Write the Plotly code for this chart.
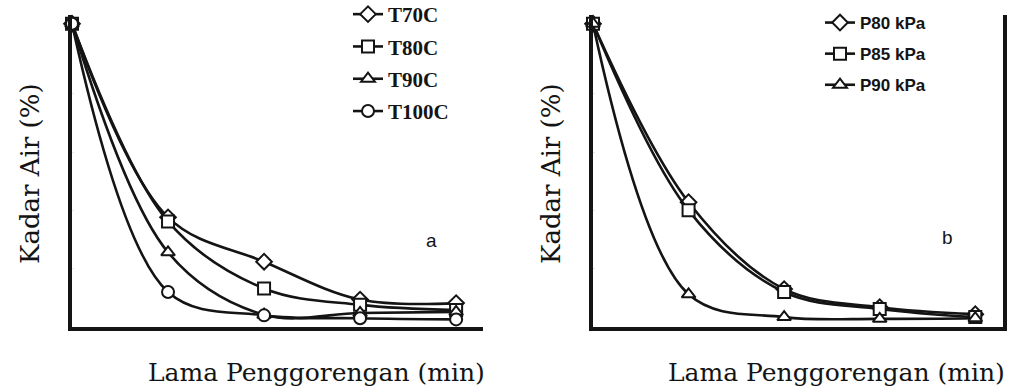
import plotly.graph_objects as go

# Frying time (min) and moisture content (%) for each treatment
waktu = [0, 2, 4, 6, 8]

suhu_labels = ["T70C", "T80C", "T90C", "T100C"]
t70 = [52.0, 18.8, 11.2, 4.7, 4.1]
t80 = [52.0, 18.1, 6.6, 3.8, 2.9]
t90 = [52.0, 12.8, 2.1, 2.4, 2.6]
t100 = [52.0, 6.0, 2.0, 1.5, 1.3]

tekanan_labels = ["P80 kPa", "P85 kPa", "P90 kPa"]
p80 = [52.0, 21.4, 6.5, 3.4, 2.2]
p85 = [52.0, 20.0, 6.0, 3.1, 1.7]
p90 = [52.0, 5.6, 1.7, 1.4, 1.5]

W, H = 1012, 392
INK = "#141414"

def px_x(v):
    return v / W

def px_y(v):
    return 1 - v / H

fig = go.Figure()

def add_series(y, name, symbol, xa, ya, legend):
    fig.add_trace(go.Scatter(
        x=waktu, y=y, name=name, xaxis=xa, yaxis=ya, legend=legend,
        legendgroup=name, mode="lines+markers", cliponaxis=False,
        line=dict(color=INK, width=2.6, shape="spline", smoothing=1.0),
        marker=dict(symbol=symbol, size=12, color="white",
                    line=dict(color=INK, width=2)),
    ))

for y, name, sym in zip([t70, t80, t90, t100], suhu_labels,
                        ["diamond", "square", "triangle-up", "circle"]):
    add_series(y, name, sym, "x", "y", "legend")

for y, name, sym in zip([p80, p85, p90], tekanan_labels,
                        ["diamond", "square", "triangle-up"]):
    add_series(y, name, sym, "x2", "y2", "legend2")

ydom = [px_y(327), px_y(15)]
axis_common = dict(showgrid=False, zeroline=False, showline=True,
                   linecolor=INK, linewidth=3.5)

fig.update_layout(
    width=W, height=H,
    margin=dict(l=0, r=0, t=0, b=0, autoexpand=False),
    paper_bgcolor="white", plot_bgcolor="white",
    showlegend=True,
    xaxis=dict(domain=[px_x(72), px_x(483)], range=[0, 8.56],
               showticklabels=False, ticks="", anchor="y", **axis_common),
    yaxis=dict(domain=ydom, range=[0, 53.5], showticklabels=False,
               tickvals=[10, 20, 30, 40], ticks="inside", ticklen=2,
               tickcolor="#e6e6e6", tickwidth=1, anchor="x", **axis_common),
    xaxis2=dict(domain=[px_x(593), px_x(1003)], range=[0, 8.58],
                showticklabels=False, ticks="", anchor="y2", **axis_common),
    yaxis2=dict(domain=ydom, range=[0, 53.5], showticklabels=False,
                tickvals=[10, 20, 30, 40], ticks="inside", ticklen=2,
                tickcolor="#e6e6e6", tickwidth=1, anchor="x2", mirror=True,
                **axis_common),
    legend=dict(x=px_x(348), y=px_y(-6), xanchor="left", yanchor="top",
                bgcolor="rgba(0,0,0,0)", tracegroupgap=2,
                font=dict(family="Liberation Serif", size=21, color=INK,
                          weight="bold")),
    legend2=dict(x=px_x(820), y=px_y(5), xanchor="left", yanchor="top",
                 bgcolor="rgba(0,0,0,0)", tracegroupgap=6,
                 font=dict(family="Liberation Sans", size=17, color=INK,
                           weight="bold")),
)

y_title_font = dict(family="DejaVu Serif", size=26, color=INK)
x_title_font = dict(family="DejaVu Serif", size=25, color=INK)
for cx in (30, 551):
    fig.add_annotation(text="Kadar Air (%)", textangle=-90, xref="paper", yref="paper",
                       x=px_x(cx), y=px_y(174), xanchor="center", yanchor="middle",
                       showarrow=False, font=y_title_font)
for cx in (316, 836):
    fig.add_annotation(text="Lama Penggorengan (min)", xref="paper", yref="paper",
                       x=px_x(cx), y=px_y(372), xanchor="center", yanchor="middle",
                       showarrow=False, font=x_title_font)

panel_font = dict(family="Liberation Sans", size=19, color=INK)
fig.add_annotation(text="a", xref="paper", yref="paper", x=px_x(431), y=px_y(240),
                   xanchor="center", yanchor="middle", showarrow=False, font=panel_font)
fig.add_annotation(text="b", xref="paper", yref="paper", x=px_x(947), y=px_y(237),
                   xanchor="center", yanchor="middle", showarrow=False, font=panel_font)

fig.write_html("out.html")
